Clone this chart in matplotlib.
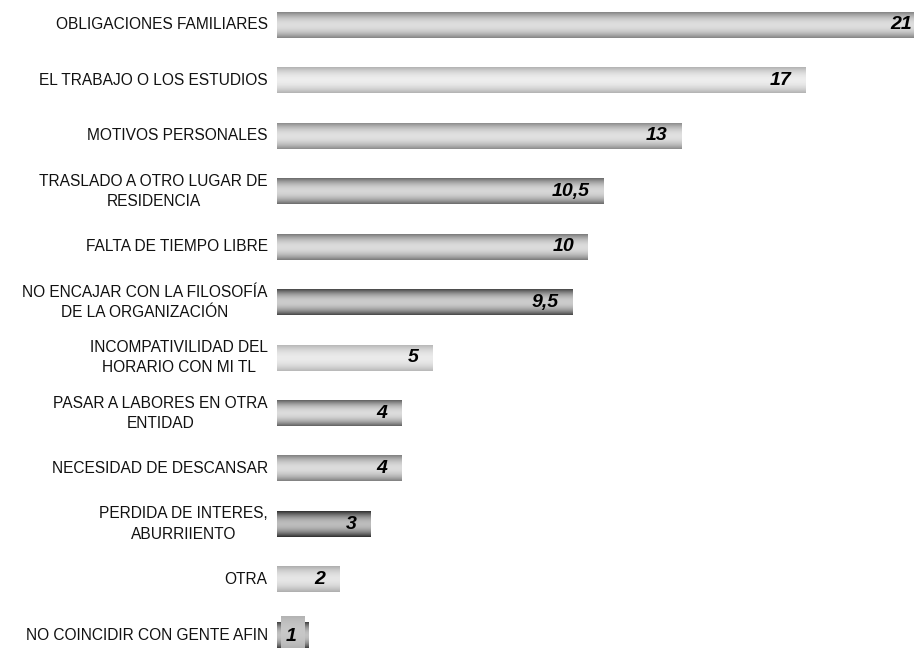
import numpy as np
import matplotlib.pyplot as plt

plt.rcParams['font.family'] = ['Liberation Sans', 'DejaVu Sans']

categories = ["OBLIGACIONES FAMILIARES", "EL TRABAJO O LOS ESTUDIOS",
              "MOTIVOS PERSONALES", "TRASLADO A OTRO LUGAR DE\nRESIDENCIA",
              "FALTA DE TIEMPO LIBRE", "NO ENCAJAR CON LA FILOSOFÍA\nDE LA ORGANIZACIÓN",
              "INCOMPATIVILIDAD DEL\nHORARIO CON MI TL", "PASAR A LABORES EN OTRA\nENTIDAD",
              "NECESIDAD DE DESCANSAR", "PERDIDA DE INTERES,\nABURRIIENTO",
              "OTRA", "NO COINCIDIR CON GENTE AFIN"]
values = [21, 17, 13, 10.5, 10, 9.5, 5, 4, 4, 3, 2, 1]
value_labels = ["21", "17", "13", "10,5", "10", "9,5", "5", "4", "4", "3", "2", "1"]
# edge / centre grey levels of each bar's shading
edge_grey = [0.52, 0.70, 0.55, 0.42, 0.48, 0.28, 0.72, 0.38, 0.50, 0.18, 0.68, 0.25]
mid_grey = [0.87, 0.93, 0.88, 0.84, 0.86, 0.80, 0.92, 0.86, 0.86, 0.74, 0.90, 0.76]

fig = plt.figure(figsize=(9.14, 6.49), dpi=100)
ax = fig.add_axes([277 / 914, 0, 1 - 277 / 914, 1])

unit = 31.1
xmax = (914 - 277) / unit
n = len(values)
y = np.arange(n)
h = 0.46
t = np.linspace(-1, 1, 64)
for i, v in enumerate(values):
    prof = mid_grey[i] - (mid_grey[i] - edge_grey[i]) * t ** 2
    img = np.repeat(prof[:, None], 2, axis=1)
    ax.imshow(img, cmap='gray', vmin=0, vmax=1, aspect='auto',
              extent=[0, v, y[i] + h / 2, y[i] - h / 2], interpolation='bilinear')
    ax.text(-0.3, y[i], categories[i], ha='right', va='center', fontsize=11.2,
            multialignment='center', linespacing=1.45, color='#111111')
    if v > 1:
        ax.text(min(v - 0.45, xmax - 0.06), y[i], value_labels[i], ha='right', va='center',
                fontsize=14, fontweight='bold', fontstyle='italic', color='black')

# lighter block on the last bar
sq = 0.78 - 0.08 * t ** 2
ax.imshow(np.repeat(sq[:, None], 2, axis=1), cmap='gray', vmin=0, vmax=1, aspect='auto',
          extent=[0.13, 0.87, y[-1] + h / 2, y[-1] - 0.33], interpolation='bilinear')
ax.text(0.47, y[-1] + 0.03, value_labels[-1], ha='center', va='center',
        fontsize=14, fontweight='bold', fontstyle='italic')

ax.set_xlim(0, xmax)
ax.set_ylim(11.25, -0.45)
ax.axis('off')

fig.savefig('out.png', dpi=100)
